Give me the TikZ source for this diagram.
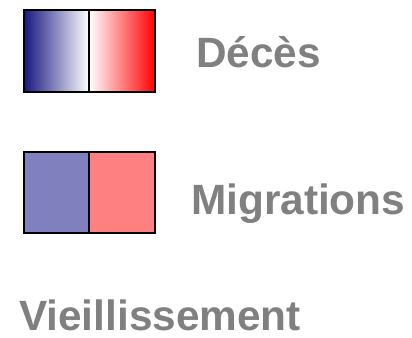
\documentclass[tikz,border=0pt]{standalone}
\usepackage{fontspec}
\setmainfont{Liberation Sans}
\definecolor{deepblue}{RGB}{24,24,128}
\definecolor{paleblue}{RGB}{128,128,191}
\definecolor{palered}{RGB}{255,128,128}
\definecolor{labelgray}{RGB}{128,128,128}
\begin{document}
\begin{tikzpicture}[x=1bp,y=-1bp,
  legendtext/.style={inner sep=0pt,text=labelgray,font=\bfseries\fontsize{42.5}{42.5}\selectfont}]
\useasboundingbox (0,0) rectangle (412,338);
% deces: gradients
\shade[left color=deepblue,right color=white] (24,10) rectangle (89,92);
\shade[left color=white,right color=red] (89,10) rectangle (155,92);
\draw[line width=1.5bp] (24,10) rectangle (155,92);
\draw[line width=1.5bp] (89,10) -- (89,92);
\node[legendtext,anchor=base west] (deces) at (196,67) {Décès};
% migrations: flat colours
\fill[paleblue] (24,152) rectangle (89,233);
\fill[palered] (89,152) rectangle (155,233);
\draw[line width=1.5bp] (24,152) rectangle (155,233);
\draw[line width=1.5bp] (89,152) -- (89,233);
\node[legendtext,anchor=base west] (migrations) at (191,214) {Migrations};
% vieillissement
\node[legendtext,anchor=base west] (vieillissement) at (19,330) {Vieillissement};
\end{tikzpicture}
\end{document}
